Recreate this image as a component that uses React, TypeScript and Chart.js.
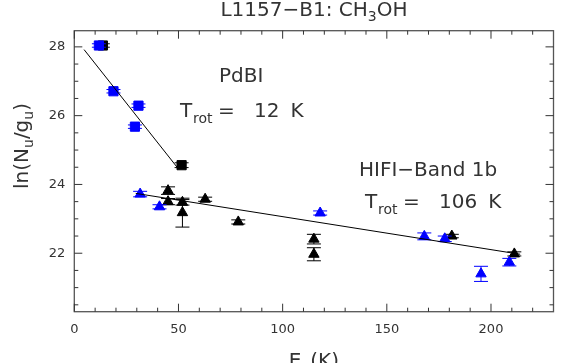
import React, { useEffect, useRef } from 'react';
import { Chart, registerables } from 'chart.js';
Chart.register(...registerables);

// PdBI (squares)
const pdbiBlackX = [13.7, 51.5];
const pdbiBlackY = [28.04, 24.56];
const pdbiBlackErr = [0.05, 0.07];
const pdbiBlueX = [11.8, 18.8, 30.8, 29.1];
const pdbiBlueY = [28.04, 26.71, 26.29, 25.68];
const pdbiBlueErr = [0.05, 0.05, 0.05, 0.05];
// HIFI (triangles)
const hifiBlackX = [45.0, 45.0, 51.9, 51.9, 62.8, 78.7, 115.0, 115.0, 181.2, 211.2];
const hifiBlackY = [23.82, 23.5, 23.48, 23.18, 23.57, 22.91, 22.41, 21.97, 22.5, 21.98];
const hifiBlackErr = [0.11, 0.09, 0.08, 0.42, 0.06, 0.06, 0.14, 0.19, 0.05, 0.06];
const hifiBlueX = [31.6, 40.9, 118.0, 168.0, 177.8, 195.2, 208.8];
const hifiBlueY = [23.72, 23.35, 23.17, 22.49, 22.42, 21.4, 21.74];
const hifiBlueErr = [0.08, 0.06, 0.06, 0.1, 0.08, 0.22, 0.11];
// rotational-diagram fits
const pdbiFitX = [4.7, 50.0];
const pdbiFitY = [27.92, 24.45];
const hifiFitX = [29.5, 214.0];
const hifiFitY = [23.74, 21.97];
// axes
const xMin = 0, xMax = 230, yMin = 20.3, yMax = 28.47;
const xMajorTicks = [0, 50, 100, 150, 200];
const xMinorTicks = [10, 20, 30, 40, 60, 70, 80, 90, 110, 120, 130, 140, 160, 170, 180, 190, 210, 220];
const yMajorTicks = [22, 24, 26, 28];
const yMinorTicks = [20.5, 21, 21.5, 22.5, 23, 23.5, 24.5, 25, 25.5, 26.5, 27, 27.5];

const FONT = "'DejaVu Sans', sans-serif";
const TXT = '#333';

const pts = (xs: number[], ys: number[]) => xs.map((v, i) => ({ x: v, y: ys[i] }));

const errPlugin = {
  id: 'errbars',
  afterDatasetDraw(chart: any, args: any) {
    const ds = chart.data.datasets[args.index];
    const errs: number[] | undefined = ds.errs;
    if (!errs) return;
    const { ctx } = chart;
    const x = chart.scales.x, y = chart.scales.y;
    ctx.save();
    ctx.strokeStyle = ds.borderColor;
    ctx.lineWidth = 1;
    ds.data.forEach((p: any, i: number) => {
      const px = x.getPixelForValue(p.x);
      const y1 = y.getPixelForValue(p.y - errs[i]);
      const y2 = y.getPixelForValue(p.y + errs[i]);
      ctx.beginPath();
      ctx.moveTo(px, y1); ctx.lineTo(px, y2);
      ctx.moveTo(px - 7, y1); ctx.lineTo(px + 7, y1);
      ctx.moveTo(px - 7, y2); ctx.lineTo(px + 7, y2);
      ctx.stroke();
    });
    ctx.restore();
  },
};

const framePlugin = {
  id: 'frame',
  afterDraw(chart: any) {
    const { ctx, chartArea: a } = chart;
    const x = chart.scales.x, y = chart.scales.y;
    ctx.save();
    ctx.strokeStyle = '#555';
    ctx.lineWidth = 1.3;
    ctx.strokeRect(a.left, a.top, a.right - a.left, a.bottom - a.top);
    ctx.lineWidth = 1;
    ctx.strokeStyle = '#333';
    ctx.beginPath();
    const xt = (v: number, len: number) => {
      const px = x.getPixelForValue(v);
      ctx.moveTo(px, a.bottom); ctx.lineTo(px, a.bottom - len);
      ctx.moveTo(px, a.top); ctx.lineTo(px, a.top + len);
    };
    const yt = (v: number, len: number) => {
      const py = y.getPixelForValue(v);
      ctx.moveTo(a.left, py); ctx.lineTo(a.left + len, py);
      ctx.moveTo(a.right, py); ctx.lineTo(a.right - len, py);
    };
    xMajorTicks.forEach((v) => xt(v, 8));
    xMinorTicks.forEach((v) => xt(v, 4));
    yMajorTicks.forEach((v) => yt(v, 8));
    yMinorTicks.forEach((v) => yt(v, 4));
    ctx.stroke();
    ctx.restore();
  },
};

type Seg = { t: string; sub?: boolean };
function drawRich(ctx: CanvasRenderingContext2D, segs: Seg[], x: number, y: number, size: number, align: 'left' | 'center') {
  const subSize = Math.round(size * 0.7);
  const fontOf = (s: Seg) => `${s.sub ? subSize : size}px ${FONT}`;
  let total = 0;
  segs.forEach((s) => { ctx.font = fontOf(s); total += ctx.measureText(s.t).width; });
  let cx = align === 'center' ? x - total / 2 : x;
  ctx.textAlign = 'left';
  ctx.textBaseline = 'alphabetic';
  segs.forEach((s) => {
    ctx.font = fontOf(s);
    ctx.fillText(s.t, cx, s.sub ? y + size * 0.27 : y);
    cx += ctx.measureText(s.t).width;
  });
}

function drawTrot(ctx: CanvasRenderingContext2D, x0: number, base: number, num: string) {
  ctx.textAlign = 'left';
  ctx.textBaseline = 'alphabetic';
  ctx.font = `20px ${FONT}`;
  ctx.fillText('T', x0, base);
  ctx.font = `14px ${FONT}`;
  ctx.fillText('rot', x0 + 13, base + 5.5);
  ctx.font = `20px ${FONT}`;
  ctx.fillText('=', x0 + 38, base);
  ctx.fillText(num, x0 + 74, base);
  const w = ctx.measureText(num).width;
  ctx.fillText('K', x0 + 74 + w + 11, base);
}

const textPlugin = {
  id: 'texts',
  afterDraw(chart: any) {
    const { ctx, chartArea: a } = chart;
    const cx = (a.left + a.right) / 2;
    ctx.save();
    ctx.fillStyle = TXT;
    drawRich(ctx, [{ t: 'L1157\u2212B1: CH' }, { t: '3', sub: true }, { t: 'OH' }], cx, 16, 20, 'center');
    drawRich(ctx, [{ t: 'E' }, { t: 'u', sub: true }, { t: '(K)' }], cx, 366.5, 20, 'center');
    ctx.save();
    ctx.translate(27.5, 146);
    ctx.rotate(-Math.PI / 2);
    drawRich(ctx, [{ t: 'ln(N' }, { t: 'u', sub: true }, { t: '/g' }, { t: 'u', sub: true }, { t: ')' }], 0, 0, 20, 'center');
    ctx.restore();
    drawRich(ctx, [{ t: 'PdBI' }], 219, 82, 20, 'left');
    drawTrot(ctx, 180, 117, '12');
    drawRich(ctx, [{ t: 'HIFI\u2212Band 1b' }], 359, 176, 20, 'left');
    drawTrot(ctx, 365, 208, '106');
    ctx.restore();
  },
};

export default function App() {
  const ref = useRef<HTMLCanvasElement | null>(null);
  useEffect(() => {
    if (!ref.current) return;
    const sq = { pointStyle: 'rect', pointRadius: 6.5, borderWidth: 1, showLine: false };
    const tri = { pointStyle: 'triangle', pointRadius: 6, borderWidth: 1, showLine: false };
    const chart = new Chart(ref.current, {
      type: 'scatter',
      data: {
        datasets: [
          { label: 'PdBI fit', type: 'line', data: pts(pdbiFitX, pdbiFitY), borderColor: '#000', borderWidth: 1, pointRadius: 0, fill: false, order: 0 } as any,
          { label: 'HIFI fit', type: 'line', data: pts(hifiFitX, hifiFitY), borderColor: '#000', borderWidth: 1, pointRadius: 0, fill: false, order: 0 } as any,
          { label: 'PdBI blue', data: pts(pdbiBlueX, pdbiBlueY), errs: pdbiBlueErr, backgroundColor: '#0000ff', borderColor: '#0000ff', order: 1, ...sq } as any,
          { label: 'HIFI blue', data: pts(hifiBlueX, hifiBlueY), errs: hifiBlueErr, backgroundColor: '#0000ff', borderColor: '#0000ff', order: 1, ...tri } as any,
          { label: 'PdBI black', data: pts(pdbiBlackX, pdbiBlackY), errs: pdbiBlackErr, backgroundColor: '#000', borderColor: '#000', order: 2, ...sq } as any,
          { label: 'HIFI black', data: pts(hifiBlackX, hifiBlackY), errs: hifiBlackErr, backgroundColor: '#000', borderColor: '#000', order: 2, ...tri } as any,
        ],
      },
      options: {
        animation: false,
        responsive: false,
        maintainAspectRatio: false,
        devicePixelRatio: 1,
        layout: { padding: { top: 30.7, right: 0.5, left: 0, bottom: 0 } },
        plugins: { legend: { display: false }, tooltip: { enabled: false }, title: { display: false } },
        scales: {
          x: {
            type: 'linear', min: xMin, max: xMax,
            grid: { display: false, drawTicks: false }, border: { display: false },
            afterBuildTicks: (s: any) => { s.ticks = xMajorTicks.map((v) => ({ value: v })); },
            afterFit: (s: any) => { s.height = 51.3; },
            ticks: { color: TXT, font: { family: FONT, size: 13 }, padding: 10, maxRotation: 0, autoSkip: false, callback: (v: any) => String(v) },
          },
          y: {
            type: 'linear', min: yMin, max: yMax,
            grid: { display: false, drawTicks: false }, border: { display: false },
            afterBuildTicks: (s: any) => { s.ticks = yMajorTicks.map((v) => ({ value: v })); },
            afterFit: (s: any) => { s.width = 74.3; },
            ticks: { color: TXT, font: { family: FONT, size: 13 }, padding: 9, autoSkip: false, callback: (v: any) => String(v) },
          },
        },
      } as any,
      plugins: [errPlugin, framePlugin, textPlugin],
    });
    return () => chart.destroy();
  }, []);
  return (
    <div style={{ position: 'absolute', left: 0, top: 0, width: 561, height: 363, background: '#fff' }}>
      <canvas ref={ref} width={561} height={363} />
    </div>
  );
}
